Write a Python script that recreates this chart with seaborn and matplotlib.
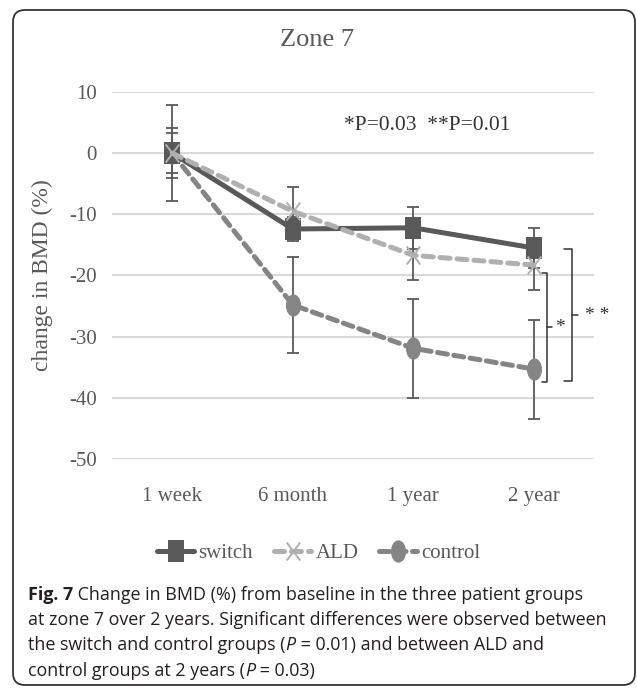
import numpy as np
import pandas as pd
import seaborn as sns
import matplotlib.pyplot as plt
from matplotlib.path import Path
from matplotlib.patches import FancyBboxPatch

# values (mean change in BMD %, +/- error bar)
timepoints = ['1 week', '6 month', '1 year', '2 year']
switch_mean = [0.0, -12.4, -12.2, -15.5]
switch_err = [3.3, 1.9, 3.4, 3.3]
ald_mean = [0.0, -9.5, -16.7, -18.3]
ald_err = [4.1, 4.0, 4.0, 4.0]
control_mean = [0.0, -24.8, -31.9, -35.3]
control_err = [7.8, 7.8, 8.1, 8.1]
y_ticks = [10, 0, -10, -20, -30, -40, -50]

TXT = '#595959'
GRID = '#d9d9d9'
colors = {'switch': '#595959', 'ALD': '#b0b0b0', 'control': '#858585'}

# tall markers (source chart is a bit stretched vertically)
tall_square = Path([(-0.68, -1), (0.68, -1), (0.68, 1), (-0.68, 1), (-0.68, -1)],
                   [Path.MOVETO, Path.LINETO, Path.LINETO, Path.LINETO, Path.CLOSEPOLY])
circ = Path.unit_circle()
tall_circle = Path(circ.vertices * np.array([0.68, 1.0]), circ.codes)
tall_x = Path([(-0.75, -1), (0.75, 1), (-0.75, 1), (0.75, -1)],
              [Path.MOVETO, Path.LINETO, Path.MOVETO, Path.LINETO])

sns.set_style("white")
plt.rcParams['font.family'] = ['Liberation Serif', 'DejaVu Serif']

fig = plt.figure(figsize=(6.37, 6.89), dpi=100)
ax = fig.add_axes([0.1758, 0.3338, 0.7567, 0.5327])

groups = [
    ('control', control_mean, control_err, dict(marker=tall_circle, markersize=16, mew=0,
                                                linestyle=(0, (2.0, 1.3)), dash_capstyle='round')),
    ('ALD', ald_mean, ald_err, dict(marker=tall_x, markersize=13, mew=1.4,
                                    markeredgecolor=colors['ALD'], markerfacecolor='none',
                                    linestyle=(0, (2.0, 1.4)), dash_capstyle='round')),
    ('switch', switch_mean, switch_err, dict(marker=tall_square, markersize=16, mew=0,
                                             linestyle='-')),
]

# error bars first, under the lines and markers
for name, mean, err, _ in groups:
    ax.errorbar(timepoints, mean, yerr=err, fmt='none', ecolor='#5a5a5a',
                elinewidth=1.3, capsize=4, capthick=1.3, zorder=2)

zorders = {'control': 3, 'switch': 4, 'ALD': 5}
for name, mean, err, kw in groups:
    df = pd.DataFrame({'time': timepoints, 'value': mean})
    kw = dict(kw)
    if 'markeredgecolor' not in kw:
        kw['markeredgecolor'] = colors[name]
    sns.lineplot(data=df, x='time', y='value', ax=ax, color=colors[name], lw=3.6,
                 sort=False, errorbar=None, label=name, zorder=zorders[name],
                 clip_on=False, **kw)

ax.set_xlim(-0.5, 3.5)
ax.set_ylim(-50, 10)
ax.set_yticks(y_ticks)
ax.set_yticklabels([str(v) for v in y_ticks])
ax.grid(axis='y', color=GRID, lw=1.5)
ax.set_axisbelow(True)
for s in ax.spines.values():
    s.set_visible(False)
ax.tick_params(axis='both', length=0, labelsize=15, colors=TXT)
ax.tick_params(axis='y', pad=11)
ax.tick_params(axis='x', pad=20)
ax.set_xlabel('')
ax.set_ylabel('change in BMD (%)', fontsize=17, color=TXT)
ax.yaxis.set_label_coords(-0.122, 0.5)

ax.text(0.654, 0.91, '*P=0.03  **P=0.01', transform=ax.transAxes, ha='center',
        va='center', fontsize=15.5, color='#333333')

# significance brackets at 2 year
xb = 3
def bracket(x_in, x_line, x_out, top, bottom, label, x_lab):
    kw = dict(color='#333333', lw=1.1, clip_on=False)
    ax.plot([x_in, x_line, x_line, x_in], [top, top, bottom, bottom], **kw)
    mid = (top + bottom) / 2
    ax.plot([x_line, x_out], [mid, mid], **kw)
    ax.text(x_lab, mid, label, ha='center', va='center', fontsize=14,
            color='#333333', clip_on=False)

bracket(xb + 0.07, xb + 0.11, xb + 0.15, ald_mean[3] - 1.3, control_mean[3] - 2.1, '*', xb + 0.22)
bracket(xb + 0.25, xb + 0.32, xb + 0.37, switch_mean[3] - 0.2, control_mean[3] - 2.0, '* *', xb + 0.53)

ax.get_legend().remove()
handles, labels = ax.get_legend_handles_labels()
order = [labels.index(n) for n in ['switch', 'ALD', 'control']]
leg = fig.legend([handles[i] for i in order], [labels[i] for i in order],
                 loc='center', bbox_to_anchor=(0.5, 1 - 553 / 689), ncol=3,
                 frameon=False, fontsize=15, handlelength=1.8, handletextpad=0.2,
                 columnspacing=1.0, labelcolor=TXT)

fig.text(0.498, 1 - 40 / 689, 'Zone 7', ha='center', va='center', fontsize=19, color=TXT)

# caption
cap_font = ['Open Sans', 'DejaVu Sans']
renderer = fig.canvas.get_renderer()
def put_line(segments, y):
    x = 28 / 637
    for txt, extra in segments:
        t = fig.text(x, y, txt, ha='left', va='center', fontsize=12.9, color='#231f20',
                     family=cap_font, **extra)
        x += t.get_window_extent(renderer).width / fig.bbox.width

put_line([('Fig. 7', dict(weight='bold')),
          (' Change in BMD (%) from baseline in the three patient groups', {})], 1 - 595 / 689)
put_line([('at zone 7 over 2 years. Significant differences were observed between', {})], 1 - 620 / 689)
put_line([('the switch and control groups (', {}), ('P', dict(style='italic')),
          (' = 0.01) and between ALD and', {})], 1 - 645 / 689)
put_line([('control groups at 2 years (', {}), ('P', dict(style='italic')),
          (' = 0.03)', {})], 1 - 671 / 689)

frame = FancyBboxPatch((0.13, 0.04), 6.22, 6.75, boxstyle='round,pad=0,rounding_size=0.12',
                       transform=fig.dpi_scale_trans, fill=False, ec='#333333', lw=1.3)
fig.add_artist(frame)

fig.savefig('out.png', dpi=100)
